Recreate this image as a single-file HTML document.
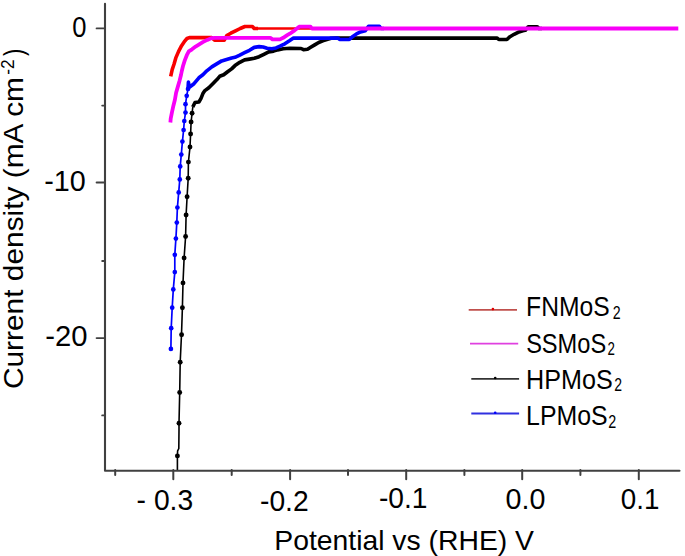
<!DOCTYPE html>
<html><head><meta charset="utf-8"><style>
html,body{margin:0;padding:0;background:#fff;}
svg{display:block;}
text{font-family:"Liberation Sans",sans-serif;fill:#000;}
</style></head><body>
<svg width="685" height="556" viewBox="0 0 685 556">
<rect width="685" height="556" fill="#fff"/>
<polyline points="177.4,470.5 177.4,455.9 177.6,451.0 178.8,448.6 179.0,430.0 179.0,423.3 179.7,392.5 180.2,362.3 181.5,334.5 182.4,307.7 183.0,282.9 184.1,258.0 185.6,236.5 186.1,215.0 187.1,196.7 188.2,178.3 188.4,162.1 190.0,147.0 190.6,134.0 191.1,122.0 192.1,113.2 192.8,107.0" fill="none" stroke="#000" stroke-width="1.6"/><circle cx="177.4" cy="455.9" r="2.45" fill="#000"/><circle cx="179.0" cy="423.3" r="2.45" fill="#000"/><circle cx="179.7" cy="392.5" r="2.45" fill="#000"/><circle cx="180.2" cy="362.3" r="2.45" fill="#000"/><circle cx="181.6" cy="334.7" r="2.45" fill="#000"/><circle cx="182.4" cy="307.7" r="2.45" fill="#000"/><circle cx="183.0" cy="282.9" r="2.45" fill="#000"/><circle cx="184.1" cy="258.0" r="2.45" fill="#000"/><circle cx="185.6" cy="236.5" r="2.45" fill="#000"/><circle cx="186.1" cy="215.0" r="2.45" fill="#000"/><circle cx="187.1" cy="196.7" r="2.45" fill="#000"/><circle cx="188.2" cy="178.3" r="2.45" fill="#000"/><circle cx="188.4" cy="162.1" r="2.45" fill="#000"/><circle cx="190.0" cy="147.0" r="2.45" fill="#000"/><circle cx="190.6" cy="134.0" r="2.45" fill="#000"/><circle cx="191.1" cy="122.0" r="2.45" fill="#000"/><circle cx="192.1" cy="113.2" r="2.45" fill="#000"/><polyline points="192.8,107.0 193.0,106.5 195.0,102.5 198.9,102.0 200.9,98.6 202.9,93.6 204.9,90.6 208.8,87.7 212.8,83.7 216.7,79.8 219.7,76.3 223.7,74.8 227.6,71.8 231.6,68.9 235.0,65.6 239.8,62.3 244.6,59.9 249.5,59.1 254.3,58.3 259.1,56.7 263.9,54.3 268.7,51.9 273.6,51.1 277.6,49.9 283.2,48.7 290.0,48.3 301.1,48.5 303.5,49.7 307.5,49.3 310.7,47.3 314.7,44.9 318.7,42.5 322.8,40.9 327.6,39.4 331.0,38.3 336.0,38.1 497.2,38.1 498.8,39.5 506.9,39.5 510.0,36.7 514.1,34.3 518.1,32.3 522.9,30.7 525.3,30.3 528.3,26.7 537.3,26.7 539.0,28.5 542.0,28.5" fill="none" stroke="#000" stroke-width="3.6" stroke-linejoin="round"/><polyline points="170.9,348.9 171.2,328.2 172.2,307.7 173.3,289.4 174.8,272.1 174.8,254.8 175.9,238.6 176.8,222.6 177.4,207.5 178.7,192.4 179.8,179.4 180.2,166.4 181.3,154.6 182.4,141.6 183.6,130.0 184.3,121.0 185.5,112.6 185.5,104.2 186.7,95.8 188.0,89.0" fill="none" stroke="#0000ff" stroke-width="1.7"/><circle cx="170.9" cy="348.9" r="2.35" fill="#0000ff"/><circle cx="171.2" cy="328.2" r="2.35" fill="#0000ff"/><circle cx="172.2" cy="307.7" r="2.35" fill="#0000ff"/><circle cx="173.3" cy="289.4" r="2.35" fill="#0000ff"/><circle cx="174.8" cy="272.1" r="2.35" fill="#0000ff"/><circle cx="174.8" cy="254.8" r="2.35" fill="#0000ff"/><circle cx="175.9" cy="238.6" r="2.35" fill="#0000ff"/><circle cx="176.8" cy="222.6" r="2.35" fill="#0000ff"/><circle cx="177.4" cy="207.5" r="2.35" fill="#0000ff"/><circle cx="178.7" cy="192.4" r="2.35" fill="#0000ff"/><circle cx="179.8" cy="179.4" r="2.35" fill="#0000ff"/><circle cx="180.2" cy="166.4" r="2.35" fill="#0000ff"/><circle cx="181.3" cy="154.6" r="2.35" fill="#0000ff"/><circle cx="182.4" cy="141.6" r="2.35" fill="#0000ff"/><circle cx="183.6" cy="130.0" r="2.35" fill="#0000ff"/><circle cx="184.3" cy="121.0" r="2.35" fill="#0000ff"/><circle cx="185.5" cy="112.6" r="2.35" fill="#0000ff"/><circle cx="185.5" cy="104.2" r="2.35" fill="#0000ff"/><circle cx="186.7" cy="95.8" r="2.35" fill="#0000ff"/><circle cx="188.0" cy="89.0" r="2.35" fill="#0000ff"/><polyline points="188.0,89.0 188.4,82.0 189.3,87.3 190.0,86.7 194.0,83.7 198.9,77.8 202.9,74.8 206.8,70.8 211.8,66.9 216.7,63.9 221.7,60.9 226.6,59.5 231.6,58.0 235.0,57.3 239.8,55.1 244.6,52.7 249.5,50.3 254.3,47.4 259.1,46.6 263.1,47.0 267.1,48.3 271.9,48.7 276.0,47.9 280.0,46.2 284.8,43.8 289.8,40.6 293.5,38.1 338.0,38.1 339.6,39.5 349.3,39.5 352.5,36.7 356.5,33.9 360.5,31.9 365.3,30.7 368.5,26.3 379.4,26.3 381.0,28.5 384.0,28.5" fill="none" stroke="#0000ff" stroke-width="3.6" stroke-linejoin="round"/><line x1="256" y1="28.5" x2="677" y2="28.5" stroke="#f80000" stroke-width="2.6"/><line x1="382" y1="28.5" x2="676" y2="28.5" stroke="#0000ff" stroke-width="2.6"/><line x1="540" y1="28.5" x2="676" y2="28.5" stroke="#000" stroke-width="2.6"/><polyline points="170.7,76.3 172.2,69.6 174.0,64.2 175.8,57.9 178.5,51.6 181.6,45.7 184.3,41.7 187.0,38.5 189.3,37.6 211.8,37.6 214.6,40.1 224.3,40.1 226.8,35.5 230.8,33.2 235.5,30.8 240.2,28.5 244.9,26.5 252.4,26.5 254.2,28.5 258.0,28.5" fill="none" stroke="#f80000" stroke-width="3.6" stroke-linejoin="round"/><polyline points="170.4,122.5 170.7,118.6 171.9,112.6 173.4,105.7 174.9,99.8 176.1,92.8 177.8,86.9 179.5,80.9 181.0,75.0 181.8,71.0 183.0,66.0 184.7,60.6 186.8,55.2 188.8,51.4 192.0,49.3 195.6,46.6 199.2,44.4 202.8,42.1 207.3,39.9 211.8,38.1 215.0,37.8 270.3,37.8 272.5,39.4 280.0,39.4 283.2,37.8 287.2,35.2 289.8,33.7 294.6,30.4 298.5,27.2 299.8,26.6 310.5,26.6 311.8,28.5 678.3,28.5" fill="none" stroke="#f800f8" stroke-width="3.8" stroke-linejoin="round"/>
<path d="M105,3.8 V470.8 H679.5" fill="none" stroke="#404040" stroke-width="2.1" stroke-linejoin="round" stroke-linecap="round"/><line x1="96.6" y1="28.4" x2="105" y2="28.4" stroke="#404040" stroke-width="1.9" stroke-linecap="round"/><line x1="96.6" y1="182.55" x2="105" y2="182.55" stroke="#404040" stroke-width="1.9" stroke-linecap="round"/><line x1="96.6" y1="338.1" x2="105" y2="338.1" stroke="#404040" stroke-width="1.9" stroke-linecap="round"/><line x1="102.2" y1="105.6" x2="105" y2="105.6" stroke="#404040" stroke-width="1.9" stroke-linecap="round"/><line x1="102.2" y1="261.0" x2="105" y2="261.0" stroke="#404040" stroke-width="1.9" stroke-linecap="round"/><line x1="102.2" y1="415.4" x2="105" y2="415.4" stroke="#404040" stroke-width="1.9" stroke-linecap="round"/><line x1="173.3" y1="470" x2="173.3" y2="479.3" stroke="#404040" stroke-width="2" stroke-linecap="round"/><line x1="290.1" y1="470" x2="290.1" y2="479.3" stroke="#404040" stroke-width="2" stroke-linecap="round"/><line x1="406.2" y1="470" x2="406.2" y2="479.3" stroke="#404040" stroke-width="2" stroke-linecap="round"/><line x1="522.2" y1="470" x2="522.2" y2="479.3" stroke="#404040" stroke-width="2" stroke-linecap="round"/><line x1="638.8" y1="470" x2="638.8" y2="479.3" stroke="#404040" stroke-width="2" stroke-linecap="round"/><line x1="115.2" y1="470" x2="115.2" y2="475" stroke="#404040" stroke-width="2" stroke-linecap="round"/><line x1="231.7" y1="470" x2="231.7" y2="475" stroke="#404040" stroke-width="2" stroke-linecap="round"/><line x1="348" y1="470" x2="348" y2="475" stroke="#404040" stroke-width="2" stroke-linecap="round"/><line x1="464.4" y1="470" x2="464.4" y2="475" stroke="#404040" stroke-width="2" stroke-linecap="round"/><line x1="580.4" y1="470" x2="580.4" y2="475" stroke="#404040" stroke-width="2" stroke-linecap="round"/>
<text x="72.3" y="37.3" font-size="28.6" textLength="14.22" lengthAdjust="spacingAndGlyphs">0</text><text x="44.29" y="191.0" font-size="28.6" textLength="41.53" lengthAdjust="spacingAndGlyphs">-10</text><text x="45.38" y="345.6" font-size="28.6" textLength="42.26" lengthAdjust="spacingAndGlyphs">-20</text><text x="136.61" y="509.5" font-size="28.6" textLength="56.61" lengthAdjust="spacingAndGlyphs">- 0.3</text><text x="260.01" y="510.6" font-size="28.6" textLength="48.67" lengthAdjust="spacingAndGlyphs">-0.2</text><text x="378.91" y="507.8" font-size="28.6" textLength="48.56" lengthAdjust="spacingAndGlyphs">-0.1</text><text x="505.5" y="509.4" font-size="28.6" textLength="39.85" lengthAdjust="spacingAndGlyphs">0.0</text><text x="620.8" y="508.8" font-size="28.6" textLength="38.63" lengthAdjust="spacingAndGlyphs">0.1</text>
<text x="274.3" y="549.9" font-size="28" textLength="259.66" lengthAdjust="spacingAndGlyphs">Potential vs (RHE) V</text><g transform="translate(23.3,388) rotate(-90)"><text x="-1.07" y="0" font-size="28" textLength="312.03" lengthAdjust="spacingAndGlyphs">Current density (mA cm</text><text x="313.3" y="-9.6" font-size="18" textLength="15.42" lengthAdjust="spacingAndGlyphs">-2</text><text x="331.9" y="0" font-size="28" textLength="7.4" lengthAdjust="spacingAndGlyphs">)</text></g>
<line x1="468.7" y1="309.9" x2="517" y2="309.9" stroke="#c0504d" stroke-width="1.8"/><circle cx="492.9" cy="309.09999999999997" r="1.3" fill="#e00000"/><text x="526.09" y="316.2" font-size="27" textLength="83.58" lengthAdjust="spacingAndGlyphs">FNMoS</text><text x="612.8" y="318.8" font-size="17.5" textLength="7.88" lengthAdjust="spacingAndGlyphs">2</text><line x1="470" y1="343.6" x2="518.2" y2="343.6" stroke="#e040e0" stroke-width="1.8"/><text x="526.13" y="352.8" font-size="27" textLength="80.05" lengthAdjust="spacingAndGlyphs">SSMoS</text><text x="607.5" y="355.2" font-size="17.5" textLength="7.4" lengthAdjust="spacingAndGlyphs">2</text><line x1="471.3" y1="378.8" x2="519.1" y2="378.8" stroke="#333333" stroke-width="1.8"/><circle cx="495.2" cy="378.0" r="1.3" fill="#000"/><text x="526.07" y="388.7" font-size="27" textLength="86.66" lengthAdjust="spacingAndGlyphs">HPMoS</text><text x="614.2" y="391.4" font-size="17.5" textLength="7.79" lengthAdjust="spacingAndGlyphs">2</text><line x1="471.3" y1="413.5" x2="519.1" y2="413.5" stroke="#3030e0" stroke-width="1.8"/><circle cx="495.2" cy="412.7" r="1.3" fill="#0000ff"/><text x="526.08" y="425.2" font-size="27" textLength="81.52" lengthAdjust="spacingAndGlyphs">LPMoS</text><text x="608.3" y="427.9" font-size="17.5" textLength="7.98" lengthAdjust="spacingAndGlyphs">2</text>
</svg>
</body></html>
